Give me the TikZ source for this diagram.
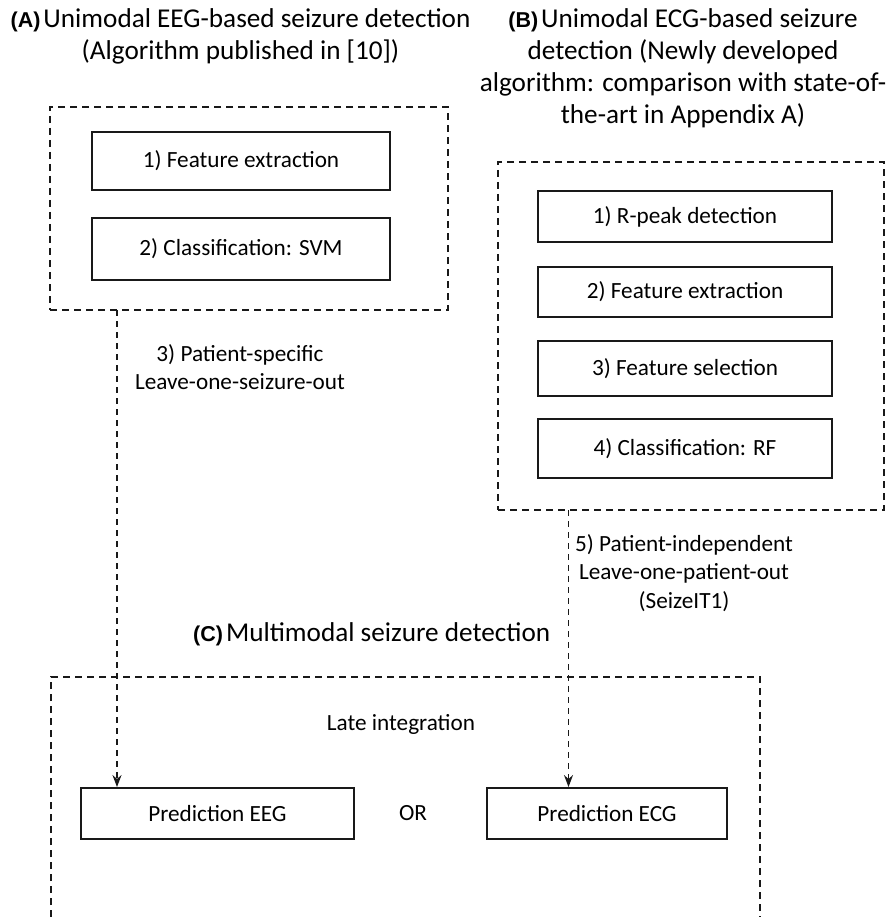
\documentclass[tikz,border=0pt]{standalone}
\usepackage{fontspec}
\setmainfont{Carlito}
\newfontfamily\lblfont{Liberation Sans}
\usetikzlibrary{arrows.meta}
\newcommand{\panel}[1]{{\lblfont\bfseries\fontsize{21.5}{23}\selectfont (#1)}\hspace{3pt}}
\begin{document}
\begin{tikzpicture}[x=1pt,y=-1pt,
  stepbox/.style={draw=black!90,line width=1.9pt,inner sep=0pt,font=\fontsize{23.2}{28.4}\selectfont},
  group/.style={draw=black!90,line width=1.7pt,dash pattern=on 7pt off 5pt,inner sep=0pt},
  arr/.style={draw=black!90,line width=1.4pt,dash pattern=on 6pt off 5pt,-{Stealth[length=12pt,width=9pt]}},
  title/.style={align=center,font=\fontsize{27.2}{32}\selectfont,inner sep=0pt},
  lbl/.style={align=center,font=\fontsize{23.2}{28.4}\selectfont,inner sep=0pt}]
\useasboundingbox (0,0) rectangle (893,917);
% titles
\node[title] (tA) at (240.5,36) {\panel{A}Unimodal EEG-based seizure detection\\(Algorithm published in [10])};
\node[title] (tB) at (683,68) {\panel{B}Unimodal ECG-based seizure\\detection (Newly developed\\algorithm: comparison with state-of-\\the-art in Appendix A)};
% group A
\node[group,minimum width=398pt,minimum height=203pt] (gA) at (249,208.5) {};
\node[stepbox,minimum width=298pt,minimum height=58pt] (a1) at (241,161) {1) Feature extraction};
\node[stepbox,minimum width=298pt,minimum height=62pt] (a2) at (241,249) {2) Classification: SVM};
% group B
\node[group,minimum width=386pt,minimum height=348pt] (gB) at (691,336) {};
\node[stepbox,minimum width=294pt,minimum height=51pt] (b1) at (685,216.5) {1) R-peak detection};
\node[stepbox,minimum width=294pt,minimum height=50pt] (b2) at (685,292) {2) Feature extraction};
\node[stepbox,minimum width=294pt,minimum height=55pt] (b3) at (685,368.5) {3) Feature selection};
\node[stepbox,minimum width=294pt,minimum height=59pt] (b4) at (685,448.5) {4) Classification: RF};
% labels
\node[lbl] (l3) at (240,367) {3) Patient-specific\\Leave-one-seizure-out};
\node[lbl] (l5) at (684,573) {5) Patient-independent\\Leave-one-patient-out\\(SeizeIT1)};
\node[title,anchor=west] (tC) at (193,634) {\panel{C}Multimodal seizure detection};
% group C (open at bottom)
\coordinate (cBL) at (51,917);
\coordinate (cTL) at (51,677);
\coordinate (cTR) at (760,677);
\coordinate (cBR) at (760,917);
\draw[group] (cBL) -- (cTL) -- (cTR) -- (cBR);
\node[lbl] (late) at (401,724) {Late integration};
\node[stepbox,minimum width=273pt,minimum height=51pt] (eeg) at (217.5,813.5) {Prediction EEG};
\node[stepbox,minimum width=240pt,minimum height=51pt] (ecg) at (607,813.5) {Prediction ECG};
\node[lbl] (or) at (413,813) {OR};
% arrows
\coordinate (aT) at (117,310);
\coordinate (bT) at (568.5,510);
\draw[arr] (aT) -- (aT |- eeg.north);
\draw[arr] (bT) -- (bT |- ecg.north);
\end{tikzpicture}
\end{document}
